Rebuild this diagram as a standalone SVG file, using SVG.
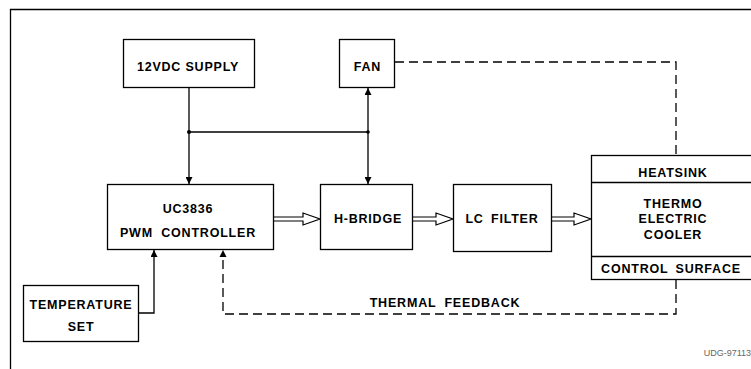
<svg xmlns="http://www.w3.org/2000/svg" width="751" height="369" viewBox="0 0 751 369">
<defs>
<style>
.box{fill:#fff;stroke:#000;stroke-width:1.3}
.ln{fill:none;stroke:#000;stroke-width:1.3}
.dash{fill:none;stroke:#000;stroke-width:1.3;stroke-dasharray:9 5}
.hol{fill:#fff;stroke:#000;stroke-width:1.2;stroke-linejoin:miter}
.t{font-family:"Liberation Sans",Arial,sans-serif;font-weight:bold;font-size:12.5px;letter-spacing:0.8px;text-anchor:middle;fill:#000}
.s{font-family:"Liberation Sans",Arial,sans-serif;font-size:9px;fill:#666;text-anchor:end}
</style>
<marker id="ah" viewBox="0 0 10 10" refX="10" refY="5" markerWidth="7" markerHeight="7" markerUnits="userSpaceOnUse" orient="auto">
<path d="M0,0 L10,5 L0,10 Z" fill="#000"/>
</marker>
</defs>
<rect width="751" height="369" fill="#fff"/>
<path class="ln" d="M10.5,369 V9.5 H751"/>
<g id="connectors">
<path class="ln" d="M189,88 V184" marker-end="url(#ah)"/>
<path class="ln" d="M189,132 H368"/>
<path class="ln" d="M368,132 V88" marker-end="url(#ah)"/>
<path class="ln" d="M368,132 V184" marker-end="url(#ah)"/>
<circle cx="189" cy="132" r="2" fill="#000"/>
<circle cx="368" cy="132" r="1.8" fill="#000"/>
<path class="ln" d="M139,313 H154 V250" marker-end="url(#ah)"/>
<path class="dash" d="M395,62 H676 V155"/>
<path class="dash" d="M676,280 V314 H223 V258"/>
<path d="M219.5,257 L223,250 L226.5,257 Z" fill="#000"/>
<path class="hol" d="M274,217 H303 V213 L320,219 L303,225 V221 H274"/>
<path class="hol" d="M413,217 H436 V213 L453,219 L436,225 V221 H413"/>
<path class="hol" d="M552,217 H574 V213 L591,219 L574,225 V221 H552"/>
</g>
<g id="supply">
<rect class="box" x="123.5" y="39.5" width="131" height="48"/>
<text class="t" x="188" y="71">12VDC SUPPLY</text>
</g>
<g id="fan">
<rect class="box" x="339.5" y="39.5" width="55" height="48"/>
<text class="t" x="367.5" y="71">FAN</text>
</g>
<g id="pwm">
<rect class="box" x="107.5" y="184.5" width="166" height="65"/>
<text class="t" x="188" y="213">UC3836</text>
<text class="t" x="188" y="237" word-spacing="4">PWM CONTROLLER</text>
</g>
<g id="hbridge">
<rect class="box" x="320.5" y="184.5" width="92" height="65"/>
<text class="t" x="368" y="223">H-BRIDGE</text>
</g>
<g id="lcfilter">
<rect class="box" x="453.5" y="184.5" width="98" height="67"/>
<text class="t" x="502" y="223" word-spacing="3">LC FILTER</text>
</g>
<g id="tec">
<rect class="box" x="591.5" y="155.5" width="170" height="124"/>
<path class="ln" d="M591.5,182.5 H761 M591.5,256.5 H761"/>
<text class="t" x="673" y="177">HEATSINK</text>
<text class="t" x="673" y="208">THERMO</text>
<text class="t" x="673" y="223">ELECTRIC</text>
<text class="t" x="673" y="239">COOLER</text>
<text class="t" x="671" y="273" word-spacing="3">CONTROL SURFACE</text>
</g>
<g id="tempset">
<rect class="box" x="23.5" y="285.5" width="115" height="56"/>
<text class="t" x="81" y="309">TEMPERATURE</text>
<text class="t" x="81" y="331">SET</text>
</g>
<g id="labels">
<text class="t" x="445" y="307" word-spacing="4">THERMAL FEEDBACK</text>
<text class="s" x="751" y="356">UDG-97113</text>
</g>
</svg>
